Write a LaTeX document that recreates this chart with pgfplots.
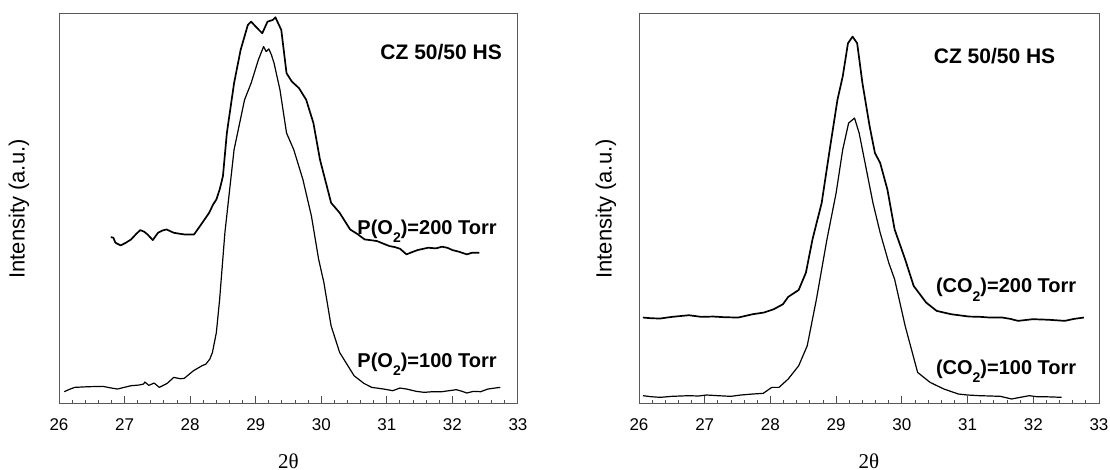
\documentclass[border=0pt]{standalone}
\usepackage{pgfplots}
\pgfplotsset{compat=1.18}
\usepackage{fontspec}
\setmainfont{Liberation Sans}
\newfontfamily\greekserif{Liberation Serif}

\newcommand{\sub}[1]{\raisebox{-4.2pt}{\fontsize{7}{7}\selectfont #1}}

\pgfplotstableread{
x y
26.08 37
26.16 44
26.24 50
26.45 52
26.67 53
26.80 48
26.89 45
27.10 55
27.22 57
27.29 60
27.31 66
27.37 56
27.45 63
27.53 50
27.65 62
27.75 80
27.85 76
27.91 77
28.05 100
28.12 108
28.18 115
28.24 120
28.30 135
28.34 155
28.40 215
28.45 315
28.53 515
28.67 765
28.83 915
28.93 965
29.04 1035
29.12 1075
29.16 1060
29.20 1068
29.24 1050
29.28 1025
29.37 945
29.47 815
29.58 765
29.72 675
29.85 565
29.96 435
30.04 365
30.15 235
30.28 155
30.50 85
30.65 62
30.77 50
30.95 45
31.09 40
31.20 48
31.30 45
31.45 38
31.57 35
31.70 37
31.84 37
31.95 40
32.06 43
32.15 38
32.22 33
32.32 38
32.43 37
32.54 45
32.65 48
32.73 50
}\lowleft

\pgfplotstableread{
x y
26.79 502
26.83 500
26.86 485
26.94 477
27.02 485
27.10 495
27.18 512
27.24 523
27.30 518
27.35 510
27.43 493
27.51 515
27.58 522
27.64 525
27.75 515
27.84 512
27.91 510
28.06 510
28.15 535
28.22 555
28.29 575
28.35 600
28.40 615
28.45 645
28.50 685
28.56 815
28.67 965
28.77 1065
28.88 1140
28.93 1150
29.00 1135
29.10 1115
29.18 1150
29.26 1155
29.30 1163
29.39 1125
29.47 995
29.55 970
29.66 950
29.77 915
29.88 845
29.98 735
30.15 605
30.28 575
30.44 525
30.56 510
30.66 495
30.78 492
30.85 490
30.95 482
31.04 475
31.12 472
31.20 467
31.30 450
31.40 458
31.47 463
31.63 470
31.75 468
31.84 473
31.92 470
32.00 463
32.10 458
32.22 450
32.30 455
32.41 455
}\highleft

\pgfplotstableread{
x y
26.06 25
26.18 22
26.32 20
26.50 23
26.76 25
26.90 24
27.03 27
27.20 25
27.40 23
27.55 27
27.73 30
27.89 32
28.02 50
28.13 50
28.27 75
28.43 115
28.56 175
28.70 315
28.86 495
29.00 635
29.10 765
29.19 845
29.28 860
29.35 815
29.45 715
29.56 605
29.67 515
29.80 425
29.89 375
30.05 235
30.24 95
30.43 65
30.64 45
30.86 30
31.00 27
31.18 25
31.35 24
31.50 23
31.67 15
31.80 20
31.94 25
32.05 22
32.15 22
32.30 21
32.43 20
}\lowright

\pgfplotstableread{
x y
26.06 260
26.18 258
26.32 257
26.50 262
26.76 267
26.95 262
27.13 263
27.30 261
27.51 260
27.73 270
27.90 275
28.05 285
28.19 300
28.27 322
28.43 343
28.54 395
28.64 495
28.78 605
28.91 775
29.02 915
29.10 985
29.18 1085
29.25 1105
29.32 1085
29.40 965
29.51 835
29.59 755
29.67 725
29.78 645
29.89 525
30.05 435
30.18 355
30.37 305
30.53 280
30.75 270
31.02 263
31.20 262
31.34 260
31.53 260
31.65 256
31.77 250
31.99 255
32.15 254
32.26 253
32.48 250
32.62 256
32.77 260
}\highright

\pgfplotsset{
  xrdpanel/.style={
    scale only axis,
    height=195pt,
    xmin=26, xmax=33,
    ymin=0, ymax=1173,
    xtick={26,...,33},
    minor x tick num=4,
    xtick pos=left,
    ytick=\empty,
    tick align=inside,
    major tick length=4pt,
    minor tick length=1.8pt,
    axis line style={black!65, line width=0.5pt},
    every tick/.style={black!70, line width=0.5pt},
    /pgf/number format/assume math mode=true,
    xticklabel style={anchor=north, inner sep=0pt, yshift=-7pt,
      font=\fontsize{8.5}{10}\selectfont},
    xlabel={\greekserif 2θ},
    xlabel style={at={(axis description cs:0.5,-0.146)}, anchor=center,
      font=\fontsize{10.5}{12}\selectfont},
    ylabel={Intensity (a.u.)},
    ylabel style={anchor=center, font=\fontsize{11}{13}\selectfont},
    clip=false,
  },
  curvethick/.style={black, line width=0.85pt, line join=round},
  curvethin/.style={black, line width=0.6pt, line join=round},
}
\tikzset{
  tag/.style={anchor=base east, inner sep=0pt,
    font=\bfseries\fontsize{10}{12}\selectfont},
}

\begin{document}
\begin{tikzpicture}
\path[use as bounding box] (0,0) rectangle (555pt,235pt);

\begin{axis}[xrdpanel, width=229.5pt,
  at={(29.5pt,33pt)}, anchor=south west,
  ylabel style={at={(axis description cs:-0.0871,0.5)}}]
\addplot[curvethin] table {\lowleft};
\addplot[curvethick] table {\highleft};
\node[tag, font=\bfseries\fontsize{10.5}{12}\selectfont]
  at (axis cs:32.76,1035) {CZ 50/50 HS};
\node[tag] at (axis cs:32.68,510) {P(O\sub{2})=200 Torr};
\node[tag] at (axis cs:32.68,110) {P(O\sub{2})=100 Torr};
\end{axis}

\begin{axis}[xrdpanel, width=230pt,
  at={(319.5pt,33pt)}, anchor=south west,
  ylabel style={at={(axis description cs:-0.0717,0.5)}}]
\addplot[curvethin] table {\lowright};
\addplot[curvethick] table {\highright};
\node[tag, font=\bfseries\fontsize{10.5}{12}\selectfont]
  at (axis cs:32.34,1025) {CZ 50/50 HS};
\node[tag] at (axis cs:32.66,335) {(CO\sub{2})=200 Torr};
\node[tag] at (axis cs:32.66,90) {(CO\sub{2})=100 Torr};
\end{axis}
\end{tikzpicture}
\end{document}
